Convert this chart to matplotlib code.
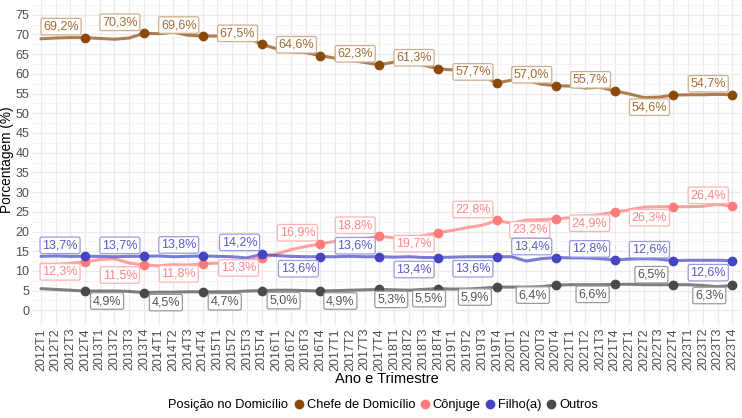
import matplotlib
matplotlib.use("Agg")
import matplotlib.pyplot as plt
from matplotlib.lines import Line2D
import numpy as np

plt.rcParams['font.family'] = ['Liberation Sans', 'DejaVu Sans']

years = list(range(2012, 2024))
quarters = [f"{y}T{q}" for y in years for q in range(1, 5)]

chefe = [68.9, 69.1, 69.2, 69.2, 69.0, 68.8, 69.1, 70.3, 70.2, 70.6, 69.8, 69.6,
         69.6, 69.7, 69.4, 67.5, 66.4, 65.6, 65.4, 64.6, 64.0, 63.5, 62.9, 62.3,
         63.0, 63.0, 62.2, 61.3, 61.0, 60.7, 59.4, 57.7, 58.4, 58.4, 57.4, 57.0,
         56.9, 56.4, 56.6, 55.7, 54.9, 54.0, 54.1, 54.6, 54.7, 54.7, 54.8, 54.7]
conjuge = [11.7, 11.7, 11.9, 12.3, 12.9, 13.1, 12.0, 11.5, 11.3, 11.6, 11.5, 11.8,
           12.0, 12.2, 12.5, 13.3, 14.3, 15.4, 16.2, 16.9, 17.5, 17.9, 18.2, 18.8,
           18.4, 18.4, 18.9, 19.7, 20.3, 21.0, 21.6, 22.8, 22.1, 22.9, 23.0, 23.2,
           23.5, 23.9, 24.3, 24.9, 25.5, 26.2, 26.3, 26.3, 26.3, 26.4, 26.9, 26.4]
filho = [13.7, 13.8, 13.7, 13.7, 13.7, 13.6, 13.7, 13.7, 13.8, 13.6, 13.7, 13.8,
         13.7, 13.6, 13.3, 14.2, 13.9, 13.7, 13.6, 13.6, 13.6, 13.7, 13.6, 13.6,
         13.5, 13.6, 13.4, 13.4, 13.5, 13.6, 13.6, 13.6, 13.6, 12.5, 13.1, 13.4,
         13.3, 13.3, 13.1, 12.8, 13.0, 13.1, 13.0, 12.6, 12.7, 12.7, 12.7, 12.6]
outros = [5.5, 5.3, 5.1, 4.9, 4.9, 4.9, 4.8, 4.5, 4.6, 4.6, 4.7, 4.7,
          4.7, 4.7, 4.9, 5.0, 5.1, 5.1, 5.0, 4.9, 5.0, 5.1, 5.2, 5.3,
          5.2, 5.1, 5.3, 5.5, 5.4, 5.4, 5.6, 5.9, 5.9, 5.9, 6.0, 6.4,
          6.5, 6.5, 6.5, 6.6, 6.6, 6.5, 6.5, 6.5, 6.5, 6.3, 6.0, 6.3]

series_names = ["Chefe de Domicílio", "Cônjuge", "Filho(a)", "Outros"]
series_values = [chefe, conjuge, filho, outros]

# styles
point_colors = ["#8B4A0A", "#FF7A7A", "#4545C4", "#4A4A4A"]
text_colors = ["#A26A30", "#FF8585", "#5A5AC8", "#555555"]
edge_colors = ["#CDAE8E", "#FFB3B3", "#9A9AE0", "#9A9A9A"]

# label offsets in pixels (dx, dy with dy positive = downward)
offsets = [
    [(-24, -11)] * 10 + [(-24, 12), (-24, -11)],
    [(-25, 10), (-24, 10), (-24, 10), (-23, 10), (-23, -11), (-24, -11),
     (-24, 11), (-24, -11), (-26, 11), (-25, 11), (-24, 11), (-24, -11)],
    [(-25, -11), (-24, -11), (-24, -11), (-22, -12), (-22, 12), (-24, -11),
     (-24, 12), (-24, 12), (-24, -11), (-25, -11), (-24, -11), (-24, 12)],
    [(22, 10), (22, 10), (22, 10), (22, 10), (20, 10), (12, 10),
     (-9, 10), (-22, 10), (-23, 10), (-22, 10), (-22, -10), (-23, 10)],
]

W, H = 742, 418
fig = plt.figure(figsize=(W / 100, H / 100), dpi=100)
ax = fig.add_axes([32.1 / W, 1 - 325.1 / H, (741.1 - 32.1) / W, 325.1 / H])

x = np.arange(len(quarters))
pidx = x[3::4]

ax.set_xlim(-0.6, len(quarters) - 1 + 0.6)
ax.set_ylim(-3.75, 78.75)
ax.set_yticks(np.arange(0, 76, 5))
ax.set_yticks(np.arange(2.5, 78, 5), minor=True)
ax.set_xticks(x)
ax.set_xticklabels(quarters, rotation=90, fontsize=9, color="#4D4D4D")
ax.tick_params(axis='y', labelsize=9, labelcolor="#4D4D4D", length=0, pad=2)
ax.tick_params(axis='x', length=0, pad=2)
ax.tick_params(which='minor', length=0)
ax.grid(True, which='major', color="#EBEBEB", linewidth=0.9)
ax.grid(True, which='minor', axis='y', color="#F3F3F3", linewidth=0.6)
ax.set_axisbelow(True)
for s in ax.spines.values():
    s.set_visible(False)

for vals, pc, tc, ec, offs in zip(series_values, point_colors, text_colors, edge_colors, offsets):
    vals = np.array(vals)
    ax.plot(x, vals, color=pc, linewidth=2.2, alpha=0.7, solid_capstyle='round', zorder=2)
    ax.plot(pidx, vals[pidx], 'o', color=pc, markersize=6, zorder=3)
    for i, (px, (dx, dy)) in enumerate(zip(pidx, offs)):
        txt = f"{vals[px]:.1f}%".replace('.', ',')
        ax.annotate(txt, (px, vals[px]), xytext=(dx, -dy), textcoords='offset pixels',
                    ha='center', va='center', fontsize=9, color=tc, zorder=4,
                    bbox=dict(boxstyle='round,pad=0.18,rounding_size=0.15',
                              fc='white', ec=ec, lw=0.9))

ax.set_ylabel("")
fig.text(7 / W, 1 - 160 / H, "Porcentagem (%)", fontsize=9.8, rotation=90,
         ha='center', va='center')
ax.set_xlabel("Ano e Trimestre", fontsize=10.5, labelpad=1)

fig.text(168 / W, 1 - 405 / H, "Posição no Domicílio", fontsize=9.3, va='center', ha='left')
handles = [Line2D([0], [0], marker='o', linestyle='none', color=c, markersize=6) for c in point_colors]
fig.legend(handles, series_names, loc='center left', bbox_to_anchor=(294 / W, 1 - 405 / H),
           ncol=4, frameon=False, fontsize=9.3, handlelength=0.8, handletextpad=0.2,
           columnspacing=0.35, borderpad=0, borderaxespad=0)

fig.savefig("out.png", dpi=100)
